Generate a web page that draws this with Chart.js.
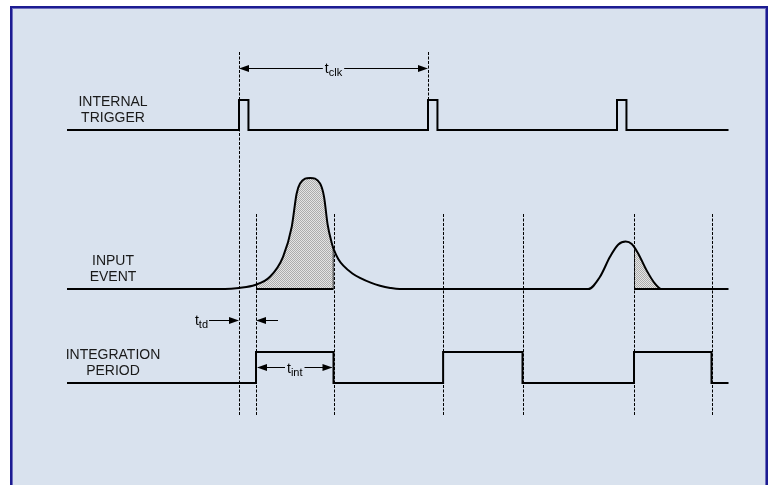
<!DOCTYPE html>
<html>
<head>
<meta charset="utf-8">
<script src="https://cdn.jsdelivr.net/npm/chart.js@4.4.1/dist/chart.umd.min.js"></script>
<style>
  html, body { margin: 0; padding: 0; background: #ffffff; }
  #wrap { position: relative; width: 777px; height: 485px; }
</style>
</head>
<body>
<div id="wrap"><canvas id="timing"></canvas></div>
<script>
// ==========================================================
// 1. SIGNAL DATA (time in ns, clock period t_clk = 100)
// ==========================================================
const triggerTimes  = [-91, 0, 5, 100, 105, 200, 205, 259];
const triggerLevels = [0, 1, 0, 1, 0, 1, 0, 0];

// input event amplitude (1 = big pulse peak)
const inputTimes  = [-91, -7.4, 0, 8.5, 16.4, 23.3, 27.9, 30.5, 32.3, 37.6, 42.9, 45, 46.9, 49, 50.3, 52.5, 55.2, 60, 64, 70, 74.6, 80, 85,
                     184.8, 191, 196.3, 200.7, 204.6, 207.8, 211.2, 215.6, 220, 223.5, 259];
const inputLevels = [0, 0, 0.01, 0.036, 0.11, 0.29, 0.56, 0.86, 0.95, 1.0, 0.95, 0.83, 0.58, 0.42, 0.35, 0.27, 0.21, 0.14, 0.10, 0.055, 0.03, 0.01, 0,
                     0, 0.11, 0.29, 0.4, 0.427, 0.405, 0.32, 0.17, 0.05, 0, 0];

const integTimes  = [-91, 9, 50, 108, 150, 209, 250, 259];
const integLevels = [0, 1, 0, 1, 0, 1, 0, 0];

// integration windows (shaded part of the input event)
const windowStarts = [9, 108, 209];
const windowEnds   = [50, 150, 250];

const laneLabels = [['INTERNAL', 'TRIGGER'], ['INPUT', 'EVENT'], ['INTEGRATION', 'PERIOD']];

// ==========================================================
// 2. LAYOUT (pixels)
// ==========================================================
const W = 777, H = 485;
const T0_PX = 239, PX_PER_NS = 1.89;
const LANE = {
    trig: { zero: 130, one: 100 },
    inp:  { zero: 289, one: 178 },
    intg: { zero: 383, one: 352 }
};
const FONT = '"Liberation Sans", Arial, sans-serif';

// hidden axis whose 0 / 1 land on the given pixel rows
function laneAxis(lane) {
    const unit = lane.zero - lane.one;
    const max = lane.zero / unit;
    return { type: 'linear', display: false, min: max - H / unit, max: max };
}

function toPoints(xs, ys) {
    return xs.map((x, i) => ({ x: x, y: ys[i] }));
}

// dotted grey fill like the original hatch
function makeDots(ctx) {
    const c = document.createElement('canvas');
    c.width = 2; c.height = 2;
    const g = c.getContext('2d');
    g.fillStyle = '#e4e4e4'; g.fillRect(0, 0, 2, 2);
    g.fillStyle = '#acacac'; g.fillRect(0, 0, 1, 1); g.fillRect(1, 1, 1, 1);
    return ctx.createPattern(c, 'repeat');
}

function arrowHead(ctx, tipX, y, dir) {
    ctx.beginPath();
    ctx.moveTo(tipX, y);
    ctx.lineTo(tipX - dir * 10, y - 3.5);
    ctx.lineTo(tipX - dir * 10, y + 3.5);
    ctx.closePath();
    ctx.fill();
}

function hLine(ctx, x1, x2, y) {
    ctx.beginPath();
    ctx.moveTo(x1, y + 0.5);
    ctx.lineTo(x2, y + 0.5);
    ctx.stroke();
}

// "t" with subscript, returns width
function subWidth(ctx, sub) {
    ctx.font = '14px ' + FONT;
    const a = ctx.measureText('t').width;
    ctx.font = '11px ' + FONT;
    return a + ctx.measureText(sub).width;
}
function drawSub(ctx, sub, left, baseY) {
    ctx.textAlign = 'left';
    ctx.textBaseline = 'alphabetic';
    ctx.font = '14px ' + FONT;
    ctx.fillText('t', left, baseY);
    const a = ctx.measureText('t').width;
    ctx.font = '11px ' + FONT;
    ctx.fillText(sub, left + a, baseY + 3);
}

// ==========================================================
// 3. DECORATION PLUGIN (frame, guides, shading, labels, arrows)
// ==========================================================
const timingDecor = {
    id: 'timingDecor',
    beforeDraw(chart) {
        const ctx = chart.ctx;
        ctx.save();
        ctx.fillStyle = '#ffffff';
        ctx.fillRect(0, 0, W, H);
        ctx.fillStyle = '#d9e2ee';
        ctx.fillRect(11, 7, 756, H);
        ctx.strokeStyle = '#1c1c92';
        ctx.lineWidth = 2;
        ctx.strokeRect(11, 7, 756, H + 10);
        ctx.strokeStyle = '#6f6fbd';
        ctx.lineWidth = 1;
        ctx.strokeRect(12.5, 8.5, 753, H + 10);
        ctx.restore();
    },
    beforeDatasetsDraw(chart) {
        const ctx = chart.ctx;
        const xs = chart.scales.x;
        const yIn = chart.scales.yIn;
        const meta = chart.getDatasetMeta(1);
        const line = meta.dataset;
        const base = yIn.getPixelForValue(0);

        // shaded area between input curve and its baseline, inside each window
        const tracePoly = () => {
            if (line.updateControlPoints) line.updateControlPoints(chart.chartArea, 'x');
            ctx.beginPath();
            if (typeof line.path === 'function') {
                line.path(ctx);
            } else {
                meta.data.forEach((p, i) => i ? ctx.lineTo(p.x, p.y) : ctx.moveTo(p.x, p.y));
            }
            ctx.lineTo(xs.getPixelForValue(inputTimes[inputTimes.length - 1]), base);
            ctx.lineTo(xs.getPixelForValue(inputTimes[0]), base);
            ctx.closePath();
        };

        ctx.save();
        const pattern = makeDots(ctx);
        windowStarts.forEach((s, i) => {
            const x1 = xs.getPixelForValue(s);
            const x2 = xs.getPixelForValue(windowEnds[i]);
            ctx.save();
            ctx.beginPath();
            ctx.rect(x1, 0, x2 - x1, base);
            ctx.clip();
            tracePoly();
            ctx.fillStyle = pattern;
            ctx.fill();
            ctx.clip();
            ctx.strokeStyle = '#000';
            ctx.lineWidth = 1.5;
            ctx.beginPath();
            ctx.moveTo(x1, 0); ctx.lineTo(x1, base);
            ctx.moveTo(x2, 0); ctx.lineTo(x2, base);
            ctx.stroke();
            ctx.restore();
            // bottom edge of the shaded area
            ctx.strokeStyle = '#000';
            ctx.lineWidth = 2;
            ctx.beginPath();
            ctx.moveTo(x1, base); ctx.lineTo(x2, base);
            ctx.stroke();
        });

        // dashed guide lines
        ctx.strokeStyle = '#000';
        ctx.lineWidth = 1;
        ctx.setLineDash([3, 1.5]);
        const trigHigh = chart.scales.yTrig.getPixelForValue(1);
        const guides = [[0, 52, 415], [100, 52, trigHigh]];
        windowStarts.forEach((s, i) => {
            guides.push([s, 214, 415]);
            guides.push([windowEnds[i], 214, 415]);
        });
        guides.forEach(g => {
            const x = Math.round(xs.getPixelForValue(g[0])) + 0.5;
            ctx.beginPath();
            ctx.moveTo(x, g[1]);
            ctx.lineTo(x, g[2]);
            ctx.stroke();
        });
        ctx.restore();
    },
    afterDatasetsDraw(chart) {
        const ctx = chart.ctx;
        const xs = chart.scales.x;
        const lanes = [chart.scales.yTrig, chart.scales.yIn, chart.scales.yInt];
        ctx.save();
        ctx.fillStyle = '#1a1a1a';
        ctx.strokeStyle = '#000';
        ctx.lineWidth = 1;

        // lane names
        ctx.font = '14px ' + FONT;
        ctx.textAlign = 'center';
        ctx.textBaseline = 'middle';
        laneLabels.forEach((lbl, i) => {
            const base = lanes[i].getPixelForValue(0);
            ctx.fillText(lbl[0], 113, base - 28);
            ctx.fillText(lbl[1], 113, base - 12);
        });

        ctx.fillStyle = '#000';
        // t_clk : between the first two trigger pulses
        const c1 = xs.getPixelForValue(triggerTimes[1]);
        const c2 = xs.getPixelForValue(triggerTimes[3]);
        const yClk = 68;
        const wClk = subWidth(ctx, 'clk');
        const lClk = (c1 + c2) / 2 - wClk / 2;
        hLine(ctx, c1 + 2, lClk - 2, yClk);
        hLine(ctx, lClk + wClk + 2, c2 - 2, yClk);
        arrowHead(ctx, c1, yClk + 0.5, -1);
        arrowHead(ctx, c2, yClk + 0.5, 1);
        drawSub(ctx, 'clk', lClk, yClk + 5);

        // t_td : delay between trigger and integration start
        const d1 = xs.getPixelForValue(triggerTimes[1]);
        const d2 = xs.getPixelForValue(windowStarts[0]);
        const yTd = 320;
        const wTd = subWidth(ctx, 'td');
        drawSub(ctx, 'td', d1 - 31 - wTd, yTd + 5);
        hLine(ctx, d1 - 30, d1 - 2, yTd);
        arrowHead(ctx, d1, yTd + 0.5, 1);
        hLine(ctx, d2 + 4, d2 + 22, yTd);
        arrowHead(ctx, d2, yTd + 0.5, -1);

        // t_int : integration window width
        const i1 = xs.getPixelForValue(windowStarts[0]);
        const i2 = xs.getPixelForValue(windowEnds[0]);
        const yInt = 367;
        const wInt = subWidth(ctx, 'int');
        const lInt = (i1 + i2) / 2 - wInt / 2;
        hLine(ctx, i1 + 2, lInt - 2, yInt);
        hLine(ctx, lInt + wInt + 2, i2 - 2, yInt);
        arrowHead(ctx, i1 + 1, yInt + 0.5, -1);
        arrowHead(ctx, i2 - 1, yInt + 0.5, 1);
        drawSub(ctx, 'int', lInt, yInt + 6);

        ctx.restore();
    }
};

// ==========================================================
// 4. CHART
// ==========================================================
const lineStyle = {
    borderColor: '#000000',
    borderWidth: 2,
    pointRadius: 0,
    fill: false,
    borderJoinStyle: 'miter',
    borderCapStyle: 'butt'
};

new Chart(document.getElementById('timing').getContext('2d'), {
    type: 'line',
    data: {
        datasets: [
            Object.assign({ label: 'Internal trigger', data: toPoints(triggerTimes, triggerLevels),
                            yAxisID: 'yTrig', stepped: true }, lineStyle),
            Object.assign({ label: 'Input event', data: toPoints(inputTimes, inputLevels),
                            yAxisID: 'yIn', cubicInterpolationMode: 'monotone' }, lineStyle),
            Object.assign({ label: 'Integration period', data: toPoints(integTimes, integLevels),
                            yAxisID: 'yInt', stepped: true }, lineStyle)
        ]
    },
    options: {
        responsive: true,
        maintainAspectRatio: false,
        animation: false,
        events: [],
        layout: { padding: 0 },
        plugins: { legend: { display: false }, tooltip: { enabled: false } },
        scales: {
            x: { type: 'linear', display: false, min: -T0_PX / PX_PER_NS, max: (W - T0_PX) / PX_PER_NS },
            yTrig: laneAxis(LANE.trig),
            yIn: laneAxis(LANE.inp),
            yInt: laneAxis(LANE.intg)
        }
    },
    plugins: [timingDecor]
});
</script>
</body>
</html>
